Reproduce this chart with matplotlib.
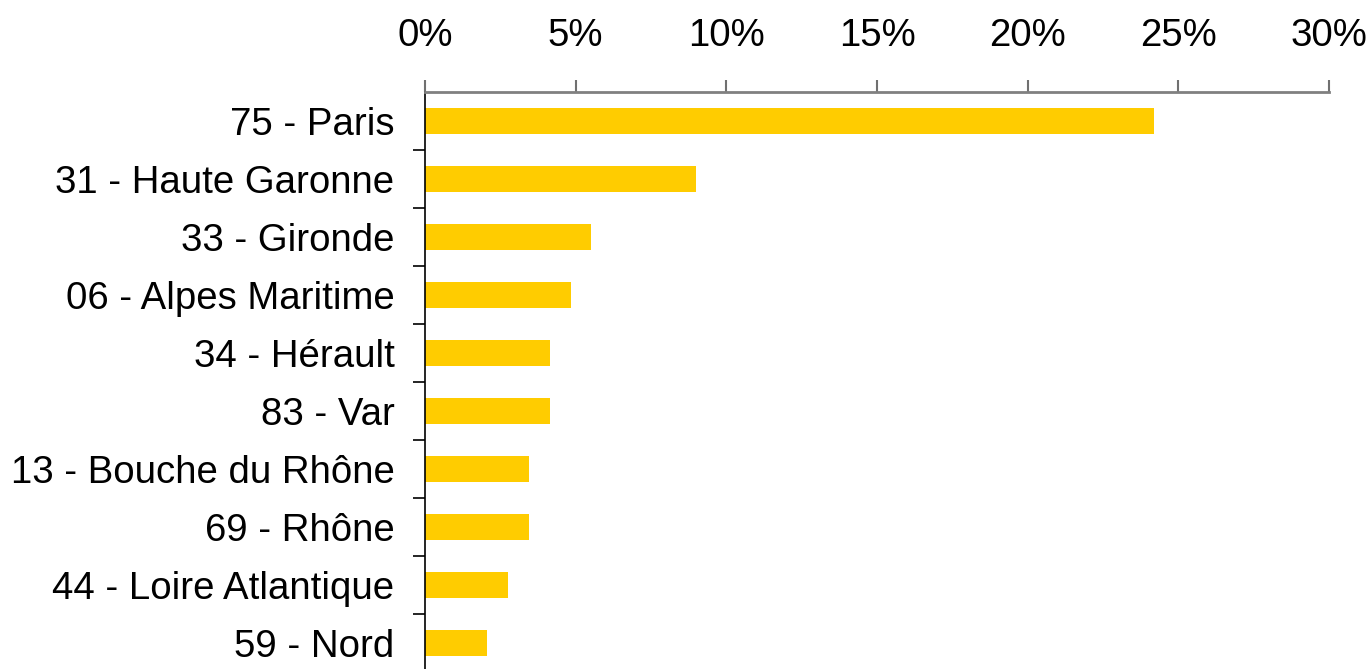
import matplotlib.pyplot as plt
from matplotlib.ticker import PercentFormatter

# Share of entries per département
departements = [
    "75 - Paris",
    "31 - Haute Garonne",
    "33 - Gironde",
    "06 - Alpes Maritime",
    "34 - Hérault",
    "83 - Var",
    "13 - Bouche du Rhône",
    "69 - Rhône",
    "44 - Loire Atlantique",
    "59 - Nord",
]
parts = [24.2, 9.0, 5.5, 4.85, 4.15, 4.15, 3.45, 3.45, 2.75, 2.05]
x_ticks = [0, 5, 10, 15, 20, 25, 30]

plt.rcParams["font.family"] = ["Liberation Sans", "DejaVu Sans"]

fig = plt.figure(figsize=(13.7, 6.69), dpi=100)
ax = fig.add_axes([0.3102, -0.0045, 0.6600, 0.8670])

positions = list(range(len(departements)))
ax.barh(positions, parts, height=0.46, color="#FFCC00")

ax.set_ylim(len(departements) - 0.5, -0.5)
ax.set_xlim(0, 30)

# Percent scale on top
ax.xaxis.tick_top()
ax.set_xticks(x_ticks)
ax.xaxis.set_major_formatter(PercentFormatter(decimals=0))
ax.tick_params(axis="x", direction="out", length=8.6, width=1.5,
               color="#707070", labelsize=27.6, pad=19)

# Category ticks sit between the bars
ax.set_yticks(positions)
ax.set_yticklabels(departements)
ax.set_yticks([p + 0.5 for p in positions[:-1]], minor=True)
ax.tick_params(axis="y", which="major", length=0, labelsize=27.6, pad=22)
ax.tick_params(axis="y", which="minor", direction="out", length=8.6,
               width=1.2, color="black")

for side in ("right", "bottom"):
    ax.spines[side].set_visible(False)
ax.spines["top"].set_color("#808080")
ax.spines["top"].set_linewidth(2)
ax.spines["left"].set_color("black")
ax.spines["left"].set_linewidth(1.2)

fig.savefig("out.png", dpi=100)
